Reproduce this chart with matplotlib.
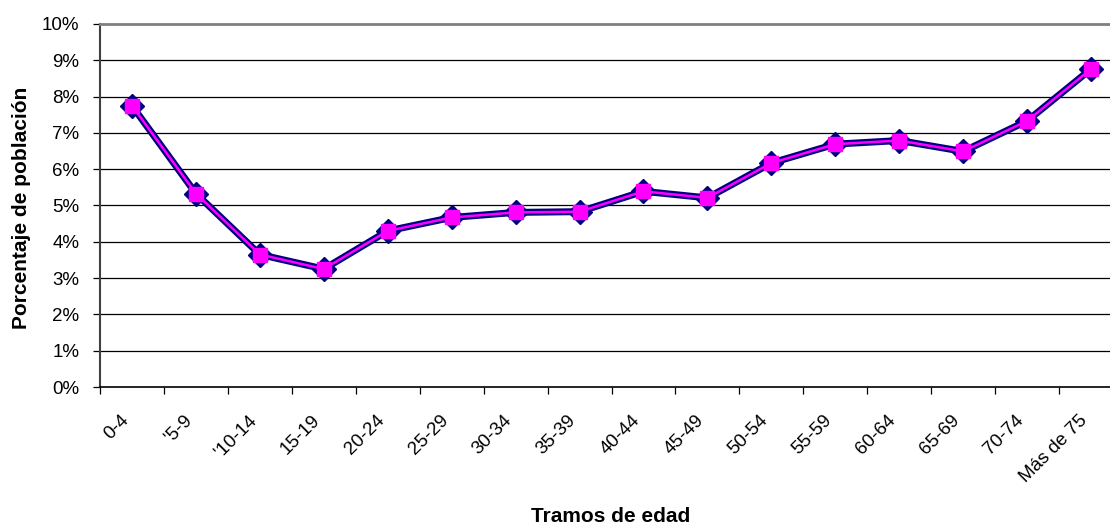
import numpy as np
import matplotlib.pyplot as plt
import matplotlib.transforms as mtransforms
from matplotlib.ticker import PercentFormatter

plt.rcParams['font.family'] = ['Liberation Sans', 'DejaVu Sans']

tramos = ["0-4", "'5-9", "'10-14", "15-19", "20-24", "25-29", "30-34", "35-39",
          "40-44", "45-49", "50-54", "55-59", "60-64", "65-69", "70-74", "Más de 75"]
serie_a = [7.75, 5.33, 3.65, 3.25, 4.30, 4.67, 4.81, 4.83,
           5.39, 5.21, 6.17, 6.69, 6.79, 6.49, 7.33, 8.76]
serie_b = [7.75, 5.33, 3.65, 3.25, 4.30, 4.67, 4.81, 4.83,
           5.39, 5.21, 6.17, 6.69, 6.79, 6.49, 7.33, 8.76]

W, H = 1110, 527
fig = plt.figure(figsize=(W / 100, H / 100), dpi=100)
# plot area runs a bit past the right edge of the picture
x0, x1, ytop, ybot = 100, 1123, 24, 387
ax = fig.add_axes([x0 / W, 1 - ybot / H, (x1 - x0) / W, (ybot - ytop) / H])

x = np.arange(len(tramos)) + 0.5
ax.plot(x, serie_a, color='#000080', lw=5, marker='D', ms=12,
        mfc='#000080', mec='#000080', zorder=3, solid_joinstyle='miter')
ax.plot(x, serie_b, color='#FF00FF', lw=1.8, marker='s', ms=10,
        mfc='#FF00FF', mec='#FF00FF', zorder=4)

ax.set_xlim(0, len(tramos))
ax.set_ylim(0, 10)
ax.set_yticks(np.arange(0, 11, 1))
ax.yaxis.set_major_formatter(PercentFormatter(decimals=0))
for v in range(1, 10):
    ax.axhline(v, color='black', lw=0.9, zorder=1)

ax.set_xticks(np.arange(0, len(tramos)))
ax.set_xticklabels([])
ax.set_xticks(x, minor=True)
ax.set_xticklabels(tramos, minor=True, rotation=45, ha='right', va='top',
                   fontsize=13.5)
shift = mtransforms.ScaledTranslation(-7 / 100, 0, fig.dpi_scale_trans)
for lab in ax.get_xticklabels(minor=True):
    lab.set_transform(lab.get_transform() + shift)
ax.tick_params(axis='x', which='minor', length=0, pad=18)
ax.tick_params(axis='x', which='major', length=5, width=0.9, direction='out')
ax.tick_params(axis='y', length=5, width=0.9, labelsize=13.5, pad=10)

ax.spines['right'].set_visible(False)
ax.spines['top'].set_color('#808080')
ax.spines['top'].set_linewidth(2)
ax.spines['left'].set_color('#404040')
ax.spines['left'].set_linewidth(1.5)
ax.spines['bottom'].set_linewidth(1.2)

fig.text(22 / W, 1 - 208 / H, 'Porcentaje de población', rotation=90,
         ha='center', va='center', fontsize=15, fontweight='bold')
fig.text(611 / W, 1 - 517 / H, 'Tramos de edad', ha='center', va='center',
         fontsize=15, fontweight='bold')

fig.savefig('out.png', dpi=100)
